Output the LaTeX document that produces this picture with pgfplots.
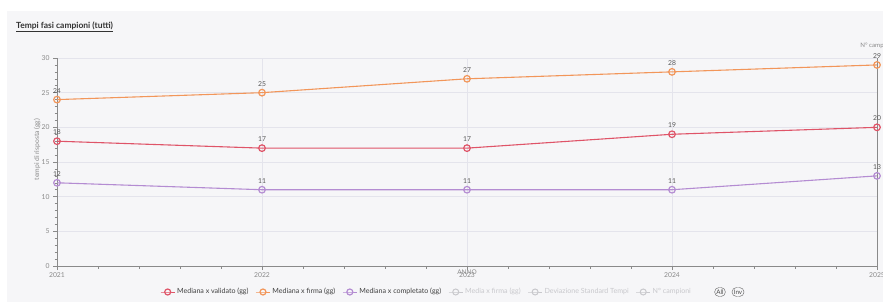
\documentclass[border=0pt]{standalone}
\usepackage{fontspec}
\setmainfont{Lato}
\usepackage{pgfplots}
\pgfplotsset{compat=1.18}
\definecolor{bgc}{HTML}{F6F6F8}
\definecolor{cred}{HTML}{DF5468}
\definecolor{corange}{HTML}{F2965A}
\definecolor{cpurple}{HTML}{B48CD2}
\definecolor{cgrid}{HTML}{E4E4EC}
\definecolor{ctick}{HTML}{8A8A8A}
\definecolor{cdim}{HTML}{C8C8CC}
\begin{document}
\begin{tikzpicture}
\path[use as bounding box] (-57bp,-36bp) rectangle (826bp,266bp);
\fill[white] (-57bp,-36bp) rectangle (826bp,266bp);
\fill[bgc] (-50bp,-36bp) rectangle (826bp,255bp);
\node[anchor=west, font=\fontsize{8.5}{10}\selectfont\bfseries, text=black!80, inner sep=0pt] at (-41bp,239bp) {\underline{Tempi fasi campioni (tutti)}};
\begin{axis}[
  scale only axis, width=820bp, height=208bp,
  xmin=2021, xmax=2025, ymin=0, ymax=30,
  axis lines*=left,
  axis line style={ctick, line width=0.6pt},
  xtick={2021,2022,2023,2024,2025}, ytick={0,5,10,15,20,25,30},
  minor x tick num=4, minor y tick num=4,
  tick align=outside, major tick length=4bp, minor tick length=2.5bp,
  tick style={ctick, line width=0.5pt},
  grid=major, major grid style={cgrid, line width=0.5pt},
  /pgf/number format/assume math mode=true,
  /pgf/number format/1000 sep={},
  tick label style={font=\fontsize{6.8}{7}\selectfont, text=ctick},
  xticklabel style={yshift=1bp},
  xlabel={ANNO}, xlabel style={font=\fontsize{6.5}{7}\selectfont, text=ctick, at={(axis description cs:0.5,0)}, anchor=north, yshift=-0.5bp},
  ylabel={tempi di risposta (gg)}, ylabel style={font=\fontsize{6.8}{7}\selectfont, text=ctick, at={(axis description cs:-0.0244,0.56)}, anchor=center},
  clip=false,
  nodes near coords,
  nodes near coords style={font=\fontsize{6.8}{7}\selectfont, text=black!65, anchor=south, yshift=2.5bp},
  every axis plot/.append style={line width=1.1pt, mark=o, mark size=3.3bp},
  legend image code/.code={\draw[#1, mark repeat=2, mark phase=2, line width=1pt, mark size=3bp] plot coordinates {(0bp,0bp) (7bp,0bp) (14bp,0bp)};},
  legend columns=-1,
  legend style={at={(axis description cs:0.1256,-0.125)}, anchor=west, draw=none, fill=none, inner sep=0pt,
    font=\fontsize{7.1}{8}\selectfont, text=black!75,
    /tikz/every even column/.append style={column sep=5bp}},
]
\addplot[color=cred, mark options={fill=white, draw=cred, line width=1.2pt}] coordinates {(2021,18) (2022,17) (2023,17) (2024,19) (2025,20)};
\addlegendentry{Mediana x validato (gg)}
\addplot[color=corange, mark options={fill=white, draw=corange, line width=1.2pt}] coordinates {(2021,24) (2022,25) (2023,27) (2024,28) (2025,29)};
\addlegendentry{Mediana x firma (gg)}
\addplot[color=cpurple, mark options={fill=white, draw=cpurple, line width=1.2pt}] coordinates {(2021,12) (2022,11) (2023,11) (2024,11) (2025,13)};
\addlegendentry{Mediana x completato (gg)}
\addlegendimage{color=cdim, mark=o, mark options={fill=white, draw=cdim}}
\addlegendentry[text=cdim]{Media x firma (gg)}
\addlegendimage{color=cdim, mark=o, mark options={fill=white, draw=cdim}}
\addlegendentry[text=cdim]{Deviazione Standard Tempi}
\addlegendimage{color=cdim, mark=o, mark options={fill=white, draw=cdim}}
\addlegendentry[text=cdim]{N° campioni}
\draw[ctick, line width=0.8pt] (rel axis cs:1,0) -- (rel axis cs:1,1);
\node[font=\fontsize{6.2}{7}\selectfont, text=ctick, anchor=south] at (rel axis cs:1,1) [yshift=6bp] {N° campioni};
\end{axis}
\node[draw=black!55, rounded corners=4.5bp, inner xsep=1.8bp, inner ysep=1.6bp, minimum height=9bp, font=\fontsize{6.3}{6.5}\selectfont, text=black!70, line width=0.5pt] at (663bp,-26bp) {All};
\node[draw=black!55, rounded corners=4.5bp, inner xsep=1.8bp, inner ysep=1.6bp, minimum height=9bp, font=\fontsize{6.3}{6.5}\selectfont, text=black!70, line width=0.5pt] at (681bp,-26bp) {Inv};
\end{tikzpicture}
\end{document}
